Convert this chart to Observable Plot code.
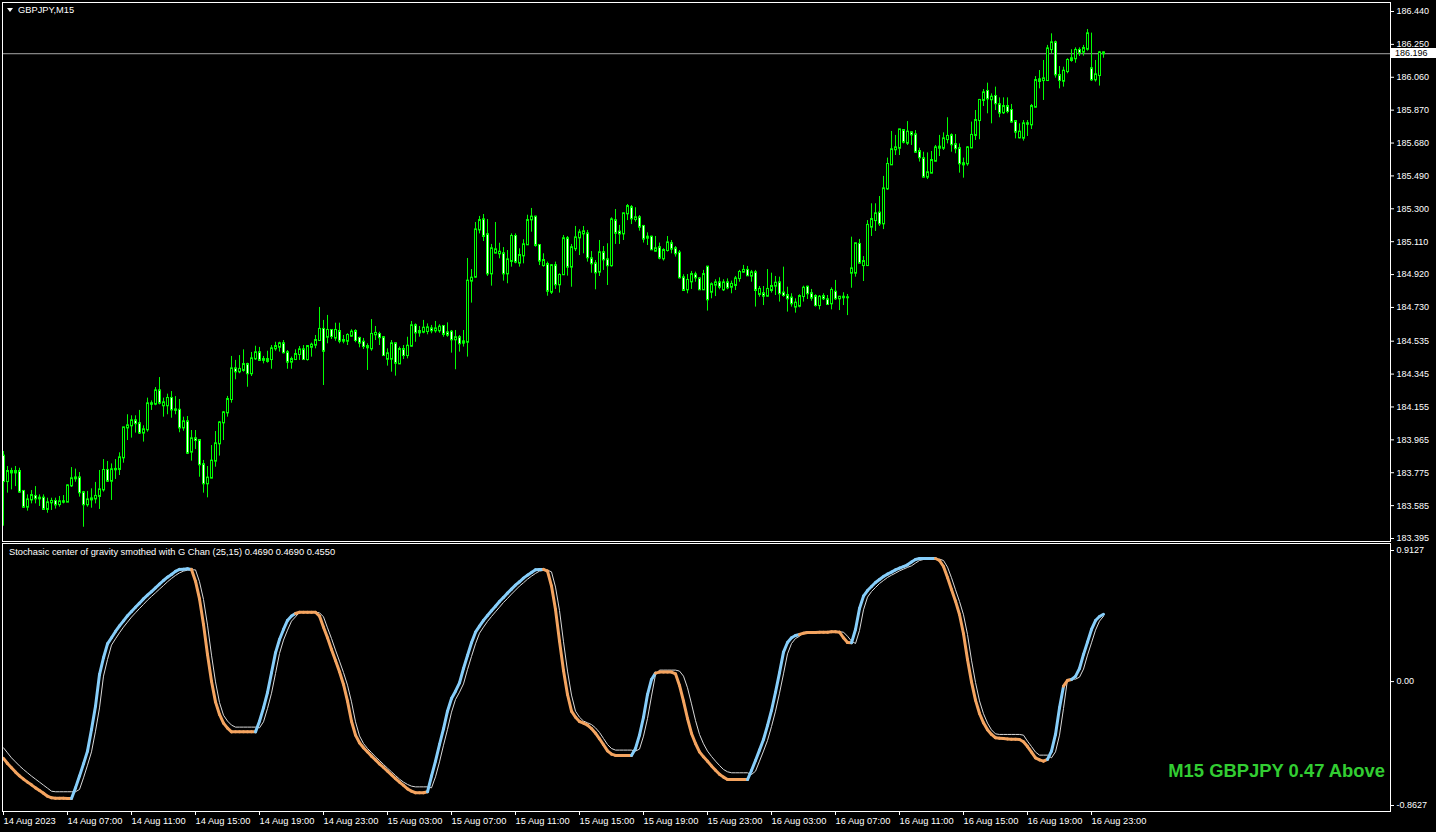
<!DOCTYPE html>
<html><head><meta charset="utf-8">
<script src="https://cdn.jsdelivr.net/npm/d3@7"></script>
<script src="https://cdn.jsdelivr.net/npm/@observablehq/plot@0.6"></script>
<style>
html,body{margin:0;padding:0;background:#000;}
#wrap{position:relative;width:1436px;height:832px;overflow:hidden;background:#000;font-family:"Liberation Sans",Arial,sans-serif;}
#wrap svg{position:absolute;left:0;}
.lbl{position:absolute;font-size:9.3px;line-height:9px;color:#fff;white-space:nowrap;}
</style></head><body><div id="wrap"></div>
<script>
const symbol = "GBPJPY";
const timeframe = "M15";
const indicatorName = "Stochasic center of gravity smothed with G Chan (25,15)";

const opens = [183.871,183.724,183.782,183.774,183.782,183.667,183.576,183.618,183.638,183.624,
183.628,183.563,183.601,183.609,183.591,183.607,183.605,183.699,183.740,183.745,
183.659,183.590,183.618,183.624,183.638,183.676,183.788,183.726,183.792,183.794,
183.861,184.034,184.046,184.075,184.058,184.004,184.023,184.173,184.171,184.248,
184.162,184.162,184.204,184.138,184.136,184.034,184.069,183.894,183.971,183.961,
183.821,183.711,183.744,183.842,183.942,184.063,184.121,184.198,184.375,184.358,
184.366,184.400,184.347,184.433,184.468,184.424,184.418,184.429,184.491,184.500,
184.520,184.468,184.414,184.429,184.458,184.485,184.429,184.500,184.512,184.539,
184.603,184.558,184.597,184.553,184.591,184.535,184.535,184.564,184.591,184.551,
184.529,184.504,184.491,184.572,184.574,184.555,184.431,184.431,184.520,184.404,
184.487,184.452,184.506,184.624,184.583,184.587,184.591,184.606,184.595,184.595,
184.620,184.583,184.587,184.543,184.555,184.531,184.529,184.882,184.905,185.178,
185.236,185.150,184.924,185.044,185.040,185.040,184.924,184.996,185.140,184.986,
185.028,185.092,185.236,185.252,185.088,184.972,184.978,184.818,184.971,184.861,
184.919,185.127,184.963,185.069,185.132,185.155,185.155,185.011,184.982,184.934,
185.046,185.005,184.971,185.231,185.165,185.155,185.271,185.306,185.238,185.248,
185.198,185.130,185.136,185.055,185.075,185.011,185.059,185.098,185.069,185.044,
184.901,184.832,184.878,184.918,184.895,184.832,184.963,184.818,184.859,184.872,
184.832,184.872,184.847,184.857,184.897,184.934,184.944,184.911,184.930,184.805,
184.809,184.795,184.828,184.853,184.872,184.813,184.799,184.784,184.732,184.737,
184.793,184.847,184.809,184.793,184.741,184.793,184.774,184.751,184.818,184.780,
184.789,184.786,184.928,184.928,185.094,184.972,184.972,185.194,185.232,185.275,
185.213,185.415,185.554,185.641,185.650,185.752,185.679,185.739,185.727,185.631,
185.589,185.483,185.506,185.575,185.650,185.650,185.700,185.722,185.670,185.647,
185.560,185.560,185.652,185.724,185.810,185.926,185.978,185.930,185.949,185.901,
185.855,185.891,185.868,185.804,185.710,185.708,185.791,185.785,185.887,186.045,
186.041,186.041,186.220,186.259,186.070,186.037,186.093,186.157,186.167,186.215,
186.205,186.222,186.109,186.045,186.070,186.201];

const highs = [183.898,183.811,183.801,183.811,183.801,183.672,183.647,183.672,183.695,183.647,
183.647,183.628,183.628,183.628,183.638,183.643,183.705,183.805,183.796,183.776,
183.667,183.667,183.682,183.719,183.788,183.851,183.840,183.826,183.851,183.890,
184.038,184.110,184.104,184.104,184.135,184.046,184.206,184.190,184.267,184.325,
184.206,184.229,184.244,184.215,184.198,184.096,184.100,184.019,184.019,183.967,
183.846,183.811,183.932,184.013,184.071,184.129,184.216,184.447,184.424,184.452,
184.485,184.408,184.470,184.506,184.499,184.447,184.477,184.510,184.529,184.529,
184.539,184.481,184.443,184.485,184.504,184.510,184.510,184.524,184.568,184.730,
184.655,184.684,184.600,184.639,184.639,184.568,184.578,184.601,184.601,184.558,
184.551,184.520,184.660,184.620,184.587,184.562,184.491,184.539,184.522,184.501,
184.510,184.558,184.649,184.635,184.620,184.655,184.635,184.626,184.649,184.630,
184.626,184.641,184.597,184.597,184.568,184.597,185.013,184.949,185.221,185.256,
185.267,185.238,185.094,185.221,185.101,185.076,185.059,185.155,185.155,185.069,
185.121,185.263,185.302,185.257,185.094,185.040,184.992,184.978,184.992,184.924,
185.146,185.140,185.094,185.198,185.179,185.198,185.175,185.053,185.001,185.117,
185.082,185.098,185.248,185.296,185.204,185.275,185.325,185.319,185.306,185.261,
185.204,185.161,185.142,185.140,185.102,185.069,185.140,185.117,185.082,185.059,
184.919,184.920,184.938,184.934,184.901,184.944,184.967,184.872,184.890,184.901,
184.890,184.895,184.882,184.909,184.944,184.973,184.967,184.944,184.944,184.851,
184.851,184.949,184.928,184.909,184.905,184.963,184.847,184.809,184.780,184.803,
184.853,184.853,184.834,184.803,184.799,184.809,184.799,184.843,184.886,184.793,
184.815,184.805,185.136,185.101,185.123,185.024,185.232,185.329,185.329,185.371,
185.487,185.593,185.747,185.724,185.760,185.756,185.804,185.743,185.752,185.650,
185.627,185.623,185.631,185.666,185.724,185.739,185.826,185.733,185.729,185.675,
185.593,185.660,185.801,185.868,185.932,185.989,186.026,185.964,186.003,185.941,
185.941,185.941,185.903,185.810,185.791,185.810,185.810,185.903,186.064,186.099,
186.157,186.244,186.311,186.269,186.122,186.118,186.167,186.219,186.230,186.230,
186.244,186.336,186.315,186.157,186.209,186.205];

const lows = [183.466,183.657,183.676,183.695,183.657,183.570,183.553,183.595,183.595,183.580,
183.561,183.541,183.557,183.565,183.576,183.595,183.603,183.690,183.720,183.634,
183.460,183.576,183.570,183.595,183.563,183.663,183.720,183.615,183.736,183.759,
183.830,183.961,183.975,184.004,183.996,183.952,184.009,184.135,184.162,184.167,
184.096,184.110,184.090,184.110,184.006,184.015,183.880,183.842,183.909,183.749,
183.657,183.630,183.740,183.807,183.871,183.961,184.096,184.177,184.312,184.347,
184.356,184.269,184.331,184.424,184.418,184.404,184.408,184.373,184.477,184.472,
184.462,184.373,184.373,184.424,184.424,184.424,184.420,184.443,184.491,184.533,
184.279,184.520,184.545,184.535,184.520,184.520,184.510,184.558,184.526,184.497,
184.487,184.366,184.477,184.539,184.510,184.447,184.391,184.356,184.333,184.400,
184.429,184.433,184.501,184.529,184.558,184.578,184.572,184.578,184.581,184.581,
184.558,184.558,184.466,184.370,184.472,184.501,184.443,184.755,184.899,185.155,
185.111,184.909,184.853,185.040,185.011,184.882,184.867,184.963,184.982,184.963,
184.982,185.088,185.165,185.078,184.972,184.963,184.795,184.805,184.834,184.813,
184.915,184.911,184.847,185.053,185.030,185.040,184.992,184.928,184.832,184.909,
184.944,184.857,184.963,185.094,185.094,185.117,185.232,185.209,185.223,185.171,
185.102,185.088,185.059,185.050,185.005,184.998,185.050,185.040,185.021,184.895,
184.824,184.809,184.834,184.876,184.828,184.828,184.709,184.780,184.793,184.832,
184.822,184.832,184.809,184.828,184.876,184.928,184.909,184.876,184.732,184.789,
184.741,184.789,184.813,184.799,184.761,184.789,184.703,184.732,184.697,184.728,
184.761,184.776,184.766,184.732,184.716,184.770,184.741,184.716,184.770,184.712,
184.741,184.683,184.841,184.905,184.982,184.880,184.969,185.140,185.169,185.198,
185.180,185.406,185.550,185.608,185.608,185.675,185.666,185.666,185.623,185.570,
185.479,185.469,185.502,185.570,185.602,185.637,185.675,185.627,185.618,185.506,
185.477,185.546,185.647,185.695,185.699,185.891,185.849,185.791,185.868,185.826,
185.845,185.849,185.797,185.704,185.704,185.691,185.718,185.758,185.883,185.993,
185.926,186.036,186.195,186.055,185.993,186.003,186.080,186.147,186.141,186.180,
186.182,186.211,186.036,186.032,186.009,186.170];

const closes = [183.724,183.782,183.774,183.782,183.663,183.576,183.618,183.643,183.624,183.628,
183.563,183.601,183.609,183.589,183.607,183.605,183.699,183.740,183.745,183.659,
183.590,183.618,183.624,183.638,183.676,183.788,183.726,183.792,183.794,183.861,
184.034,184.046,184.075,184.058,184.004,184.023,184.173,184.171,184.248,184.177,
184.179,184.204,184.138,184.136,184.034,184.069,183.888,183.971,183.961,183.821,
183.711,183.744,183.842,183.942,184.063,184.121,184.198,184.375,184.358,184.372,
184.400,184.347,184.433,184.468,184.424,184.429,184.429,184.491,184.504,184.520,
184.468,184.414,184.429,184.458,184.485,184.429,184.504,184.512,184.539,184.603,
184.477,184.597,184.562,184.597,184.535,184.539,184.568,184.587,184.539,184.524,
184.504,184.497,184.574,184.580,184.555,184.452,184.462,184.520,184.408,184.487,
184.452,184.506,184.624,184.583,184.591,184.610,184.612,184.595,184.606,184.616,
184.574,184.570,184.543,184.555,184.520,184.524,184.882,184.899,185.178,185.232,
185.140,184.924,185.069,185.063,185.049,184.924,185.005,185.140,184.992,185.030,
185.092,185.232,185.252,185.088,184.998,185.001,184.824,184.971,184.861,184.915,
185.127,184.963,185.075,185.132,185.161,185.167,185.017,184.982,184.930,185.046,
185.005,184.971,185.236,185.159,185.155,185.271,185.313,185.242,185.248,185.194,
185.125,185.136,185.063,185.069,185.015,185.059,185.103,185.067,185.040,184.901,
184.828,184.886,184.920,184.901,184.832,184.920,184.774,184.861,184.872,184.847,
184.872,184.843,184.863,184.895,184.932,184.944,184.913,184.930,184.828,184.834,
184.795,184.834,184.851,184.870,184.809,184.799,184.780,184.751,184.755,184.793,
184.841,184.809,184.784,184.741,184.789,184.780,184.747,184.828,184.780,184.789,
184.786,184.786,184.953,185.098,184.986,184.995,185.204,185.238,185.271,185.213,
185.415,185.556,185.641,185.652,185.756,185.685,185.743,185.727,185.627,185.595,
185.483,185.508,185.579,185.652,185.656,185.704,185.718,185.670,185.647,185.560,
185.554,185.652,185.724,185.810,185.926,185.970,185.935,185.945,185.907,185.853,
185.891,185.862,185.801,185.743,185.743,185.791,185.789,185.891,186.041,186.036,
186.051,186.224,186.259,186.074,186.041,186.095,186.157,186.167,186.215,186.199,
186.226,186.311,186.045,186.074,186.201,186.196];

const cgMain = [-0.535,-0.570,-0.600,-0.630,-0.656,-0.679,-0.700,-0.719,-0.740,-0.758,
-0.777,-0.798,-0.809,-0.812,-0.812,-0.812,-0.814,-0.814,-0.740,-0.658,
-0.573,-0.484,-0.333,-0.171,0.049,0.166,0.263,0.305,0.349,0.388,
0.423,0.458,0.488,0.518,0.546,0.576,0.602,0.627,0.653,0.678,
0.704,0.727,0.746,0.767,0.781,0.783,0.785,0.781,0.699,0.576,
0.398,0.189,0.003,-0.141,-0.229,-0.289,-0.324,-0.350,-0.350,-0.350,
-0.350,-0.350,-0.350,-0.350,-0.276,-0.183,-0.076,0.061,0.200,0.293,
0.363,0.426,0.456,0.474,0.483,0.483,0.483,0.483,0.483,0.456,
0.379,0.305,0.224,0.147,0.068,-0.020,-0.136,-0.276,-0.373,-0.426,
-0.461,-0.489,-0.519,-0.545,-0.573,-0.598,-0.624,-0.649,-0.675,-0.700,
-0.723,-0.747,-0.763,-0.774,-0.774,-0.774,-0.767,-0.658,-0.554,-0.438,
-0.329,-0.206,-0.118,-0.067,-0.009,0.091,0.182,0.270,0.344,0.386,
0.426,0.460,0.493,0.525,0.558,0.586,0.616,0.644,0.672,0.695,
0.720,0.741,0.760,0.778,0.781,0.781,0.769,0.665,0.502,0.282,
0.077,-0.090,-0.206,-0.248,-0.278,-0.289,-0.303,-0.327,-0.359,-0.398,
-0.440,-0.482,-0.505,-0.514,-0.514,-0.514,-0.514,-0.514,-0.466,-0.373,
-0.248,-0.090,0.015,0.059,0.066,0.066,0.066,0.066,0.054,-0.027,
-0.136,-0.257,-0.361,-0.431,-0.489,-0.524,-0.554,-0.587,-0.617,-0.645,
-0.665,-0.682,-0.682,-0.682,-0.682,-0.682,-0.682,-0.619,-0.549,-0.477,
-0.403,-0.306,-0.201,-0.074,0.061,0.205,0.272,0.305,0.321,0.328,
0.337,0.342,0.342,0.342,0.344,0.344,0.344,0.347,0.347,0.344,
0.305,0.272,0.270,0.363,0.509,0.595,0.634,0.662,0.690,0.711,
0.732,0.748,0.762,0.778,0.790,0.801,0.813,0.832,0.850,0.857,
0.857,0.857,0.857,0.857,0.843,0.801,0.725,0.641,0.560,0.467,
0.333,0.154,-0.002,-0.129,-0.222,-0.287,-0.336,-0.368,-0.391,-0.394,
-0.396,-0.399,-0.401,-0.401,-0.403,-0.419,-0.452,-0.491,-0.531,-0.545,
-0.554,-0.542,-0.484,-0.368,-0.183,-0.032,0.008,0.015,0.036,0.091,
0.189,0.275,0.363,0.425,0.453,0.469];

const cgSignal = [-0.461,-0.496,-0.531,-0.559,-0.587,-0.612,-0.635,-0.658,-0.679,-0.700,
-0.721,-0.742,-0.763,-0.767,-0.767,-0.767,-0.767,-0.767,-0.767,-0.751,
-0.670,-0.582,-0.489,-0.345,-0.183,0.038,0.154,0.254,0.298,0.340,
0.379,0.414,0.449,0.479,0.509,0.537,0.567,0.593,0.618,0.644,
0.669,0.695,0.718,0.739,0.757,0.769,0.776,0.778,0.778,0.695,
0.572,0.393,0.184,-0.002,-0.146,-0.234,-0.275,-0.303,-0.317,-0.317,
-0.317,-0.317,-0.317,-0.317,-0.322,-0.280,-0.187,-0.081,0.056,0.196,
0.289,0.358,0.421,0.451,0.483,0.483,0.483,0.483,0.483,0.479,
0.451,0.374,0.300,0.219,0.142,0.063,-0.025,-0.141,-0.280,-0.378,
-0.431,-0.466,-0.494,-0.524,-0.549,-0.577,-0.603,-0.628,-0.654,-0.679,
-0.700,-0.716,-0.728,-0.733,-0.733,-0.733,-0.733,-0.740,-0.663,-0.559,
-0.443,-0.333,-0.213,-0.125,-0.074,-0.016,0.084,0.175,0.263,0.337,
0.379,0.419,0.453,0.486,0.518,0.551,0.579,0.609,0.637,0.665,
0.688,0.713,0.734,0.753,0.769,0.774,0.776,0.764,0.658,0.495,
0.277,0.073,-0.094,-0.206,-0.248,-0.275,-0.287,-0.299,-0.322,-0.354,
-0.396,-0.438,-0.466,-0.477,-0.477,-0.477,-0.477,-0.477,-0.484,-0.470,
-0.380,-0.257,-0.101,0.049,0.080,0.080,0.080,0.080,0.080,0.073,
0.038,-0.043,-0.155,-0.271,-0.368,-0.433,-0.484,-0.521,-0.554,-0.584,
-0.612,-0.628,-0.635,-0.635,-0.635,-0.635,-0.635,-0.647,-0.624,-0.554,
-0.484,-0.410,-0.313,-0.206,-0.081,0.054,0.193,0.265,0.300,0.316,
0.342,0.347,0.347,0.347,0.347,0.347,0.347,0.347,0.347,0.347,
0.344,0.316,0.282,0.265,0.356,0.500,0.588,0.627,0.655,0.683,
0.704,0.725,0.741,0.755,0.771,0.783,0.795,0.806,0.825,0.843,
0.850,0.850,0.850,0.850,0.853,0.843,0.797,0.723,0.639,0.558,
0.465,0.328,0.149,-0.006,-0.134,-0.224,-0.289,-0.336,-0.364,-0.368,
-0.368,-0.368,-0.368,-0.368,-0.368,-0.373,-0.415,-0.452,-0.491,-0.512,
-0.512,-0.512,-0.531,-0.489,-0.373,-0.187,0.015,0.019,0.017,0.031,
0.087,0.184,0.270,0.358,0.421,0.455];

const priceTicks = [186.44,186.25,186.06,185.87,185.68,185.49,185.30,185.11,184.92,184.73,184.535,184.345,184.155,183.965,183.775,183.585,183.395];
const indTicks = [0.9127, 0, -0.8627];
const indTickLabels = ["0.9127", "0.00", "-0.8627"];
const timeTickBars = [0,16,32,48,64,80,96,112,128,144,160,176,192,208,224,240,256,272];
const timeLabels = ["14 Aug 2023","14 Aug 07:00","14 Aug 11:00","14 Aug 15:00","14 Aug 19:00","14 Aug 23:00",
"15 Aug 03:00","15 Aug 07:00","15 Aug 11:00","15 Aug 15:00","15 Aug 19:00","15 Aug 23:00",
"16 Aug 03:00","16 Aug 07:00","16 Aug 11:00","16 Aug 15:00","16 Aug 19:00","16 Aug 23:00"];

// ---- build tables ----
const N = closes.length;
const candles = closes.map((c, i) => ({i, o: opens[i], h: highs[i], l: lows[i], c}));
const cgRows = cgMain.map((v, i) => ({i, v, s: cgSignal[i]}));
const segs = d3.range(1, N).map(i => ({i0: i - 1, v0: cgMain[i - 1], i1: i, v1: cgMain[i], up: cgMain[i] > cgSignal[i]}));

const FONT = '"Liberation Sans", Arial, sans-serif';
const W = 1436;
const X = {domain: [0, N - 1], range: [3, 3 + 4 * (N - 1)]};
const LIME = "#00ff00";

const main = Plot.plot({
  width: W, height: 543,
  marginLeft: 2, marginRight: 46, marginTop: 2, marginBottom: 2,
  style: {background: "#000", color: "#fff", fontFamily: FONT, fontSize: "9px"},
  x: {...X, axis: null},
  y: {domain: [183.395, 186.44], range: [538, 11]},
  marks: [
    Plot.ruleY([closes[N - 1]], {stroke: "#a8a8a8"}),
    Plot.ruleX(candles, {x: "i", y1: "l", y2: "h", stroke: LIME}),
    Plot.rect(candles, {x1: d => d.i - 0.5, x2: d => d.i + 0.5, y1: "o", y2: "c",
      insetLeft: 1.5, insetRight: 0.5, insetTop: -0.5, insetBottom: -0.5,
      fill: d => d.c < d.o ? "#ffffff" : "#000000", stroke: LIME, strokeWidth: 1}),
    Plot.frame({stroke: "#fff"}),
    Plot.axisY(priceTicks, {anchor: "right", tickSize: 3, tickPadding: 3, label: null,
      tickFormat: d => d.toFixed(3), fontSize: 9})
  ]
});
main.style.top = "0px";

const ind = Plot.plot({
  width: W, height: 290,
  marginLeft: 2, marginRight: 46, marginTop: 1, marginBottom: 21,
  style: {background: "#000", color: "#fff", fontFamily: FONT, fontSize: "9px"},
  x: {...X},
  y: {domain: [-0.8627, 0.9127], range: [263, 8]},
  marks: [
    Plot.line(cgRows, {x: "i", y: "s", stroke: "#d8d8d8", strokeWidth: 1}),
    Plot.link(segs, {x1: "i0", y1: "v0", x2: "i1", y2: "v1",
      stroke: d => d.up ? "#87cefa" : "#f4a460", strokeWidth: 3, strokeLinecap: "round"}),
    Plot.frame({stroke: "#fff"}),
    Plot.axisY(indTicks, {anchor: "right", tickSize: 3, tickPadding: 3, label: null,
      tickFormat: d => indTickLabels[indTicks.indexOf(d)], fontSize: 9}),
    Plot.axisX(timeTickBars, {anchor: "bottom", tickSize: 4, tickPadding: 2, label: null,
      tickFormat: d => timeLabels[timeTickBars.indexOf(d)], textAnchor: "start", fontSize: 9.3})
  ]
});
ind.style.top = "542px";

const wrap = document.getElementById("wrap");
wrap.appendChild(main);
wrap.appendChild(ind);

function addLabel(text, css) {
  const d = document.createElement("div");
  d.className = "lbl";
  d.textContent = text;
  Object.assign(d.style, css);
  wrap.appendChild(d);
  return d;
}
// chart title with small triangle
const tri = document.createElement("div");
Object.assign(tri.style, {position: "absolute", left: "7px", top: "8px", width: "0", height: "0",
  borderLeft: "3px solid transparent", borderRight: "3px solid transparent", borderTop: "4px solid #fff"});
wrap.appendChild(tri);
addLabel(`${symbol},${timeframe}`, {left: "18px", top: "6px"});

// indicator title
const last = cgMain[N - 1], lastSig = cgSignal[N - 1];
addLabel(`${indicatorName} ${last.toFixed(4)} ${last.toFixed(4)} ${lastSig.toFixed(4)}`, {left: "9px", top: "548px"});

// current price box
const yPx = main.scale("y").apply(closes[N - 1]);
addLabel(closes[N - 1].toFixed(3), {left: "1391px", top: (Math.round(yPx) - 5) + "px", width: "45px", height: "10px",
  lineHeight: "10px", fontSize: "9px", background: "#fff", color: "#000", paddingLeft: "4px", boxSizing: "border-box"});

// status text
addLabel(`${timeframe} ${symbol} ${last.toFixed(2)} ${last > lastSig ? "Above" : "Below"}`,
  {right: "51px", top: "762px", fontSize: "18.4px", lineHeight: "18px", fontWeight: "bold", color: "#32cd32"});
</script></body></html>
